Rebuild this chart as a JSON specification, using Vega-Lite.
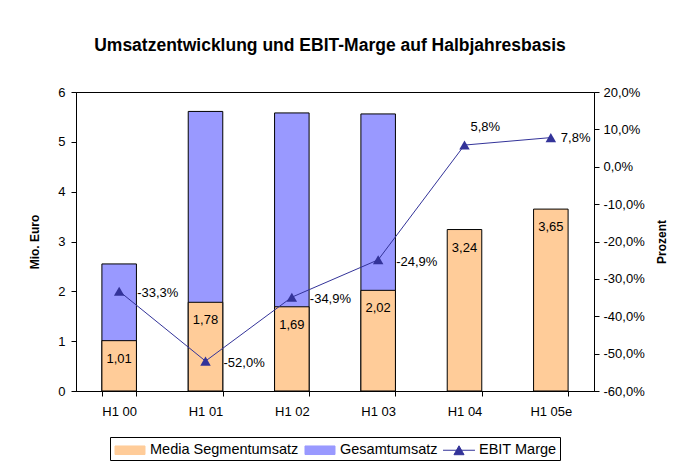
{
  "$schema": "https://vega.github.io/schema/vega-lite/v6.json",
  "autosize": "none",
  "width": 518,
  "height": 299,
  "padding": {"left": 76, "top": 92, "right": 88, "bottom": 74},
  "background": "white",
  "config": {
    "font": "Liberation Sans",
    "locale": {"number": {"decimal": ",", "thousands": ".", "grouping": [3], "currency": ["", " €"], "minus": "-", "percent": "%"}},
    "view": {"stroke": "black", "strokeWidth": 1},
    "axis": {"domainColor": "black", "tickColor": "black", "labelColor": "black", "titleColor": "black", "labelFont": "Liberation Sans", "titleFont": "Liberation Sans", "labelFontSize": 13, "titleFontSize": 12, "titleFontWeight": "bold", "grid": false, "tickSize": 5}
  },
  "title": {"text": "Umsatzentwicklung und EBIT-Marge auf Halbjahresbasis", "anchor": "middle", "frame": "group", "baseline": "bottom", "offset": 14, "dx": -5, "fontSize": 17.5, "fontWeight": "bold", "font": "Liberation Sans", "color": "black"},
  "data": {"values": [
    {"period": "H1 00", "media": 1.01, "gesamt": 2.55, "ebit": -0.333},
    {"period": "H1 01", "media": 1.78, "gesamt": 5.61, "ebit": -0.52},
    {"period": "H1 02", "media": 1.69, "gesamt": 5.58, "ebit": -0.349},
    {"period": "H1 03", "media": 2.02, "gesamt": 5.56, "ebit": -0.249},
    {"period": "H1 04", "media": 3.24, "gesamt": null, "ebit": 0.058},
    {"period": "H1 05e", "media": 3.65, "gesamt": null, "ebit": 0.078}
  ]},
  "encoding": {
    "x": {"field": "period", "type": "ordinal", "sort": null,
      "scale": {"paddingInner": 0.6, "paddingOuter": 0.3},
      "axis": {"title": null, "labelAngle": 0, "tickBand": "extent", "labelPadding": 9}}
  },
  "layer": [
    {
      "encoding": {
        "y": {"type": "quantitative", "scale": {"domain": [0, 6], "nice": false},
          "axis": {"title": "Mio. Euro", "values": [0, 1, 2, 3, 4, 5, 6], "labelPadding": 6, "titlePadding": 16}}
      },
      "layer": [
        {
          "transform": [{"filter": "datum.gesamt != null"}],
          "mark": {"type": "bar", "stroke": "black", "strokeWidth": 1},
          "encoding": {
            "y": {"field": "gesamt", "type": "quantitative"},
            "color": {"datum": "Gesamtumsatz", "type": "nominal",
              "scale": {"domain": ["Media Segmentumsatz", "Gesamtumsatz", "EBIT Marge"], "range": ["#FFCC99", "#9999FF", "#333399"]},
              "legend": {"orient": "none", "legendX": 34, "legendY": 345, "direction": "horizontal", "title": null, "strokeColor": "black", "padding": 3,
                "symbolType": {"expr": "datum.value == 'EBIT Marge' ? 'M-1.68,0H1.68M-0.53,0.47L0,-0.47L0.53,0.47Z' : 'M-1.58,-0.45H1.58V0.45H-1.58Z'"},
                "symbolSize": 361, "symbolStrokeWidth": 1, "symbolOpacity": 1, "symbolOffset": 7,
                "symbolStrokeColor": {"expr": "datum.value == 'EBIT Marge' ? '#333399' : '#333333'"},
                "labelFontSize": 14.5, "labelColor": "black", "labelFont": "Liberation Sans", "columnPadding": 3, "labelOffset": 10,
                "encoding": {"symbols": {"update": {"stroke": {"signal": "datum.value == 'EBIT Marge' ? '#333399' : '#333333'"}, "strokeWidth": {"value": 1}}}}}}
          }
        },
        {
          "mark": {"type": "bar", "stroke": "black", "strokeWidth": 1},
          "encoding": {
            "y": {"field": "media", "type": "quantitative"},
            "color": {"datum": "Media Segmentumsatz", "type": "nominal"}
          }
        },
        {
          "mark": {"type": "text", "baseline": "middle", "align": "center", "dy": 18, "fontSize": 13, "color": "black"},
          "encoding": {
            "y": {"field": "media", "type": "quantitative"},
            "text": {"field": "media", "type": "quantitative", "format": ".2f"}
          }
        }
      ]
    },
    {
      "encoding": {
        "y": {"field": "ebit", "type": "quantitative", "scale": {"domain": [-0.6, 0.2], "nice": false},
          "axis": {"orient": "right", "title": "Prozent", "format": ".1%", "values": [-0.6, -0.5, -0.4, -0.3, -0.2, -0.1, 0, 0.1, 0.2], "labelPadding": 4, "titlePadding": 12, "titleAngle": 270, "titleBaseline": "top"}}
      },
      "layer": [
        {
          "mark": {"type": "line", "strokeWidth": 1},
          "encoding": {"color": {"datum": "EBIT Marge", "type": "nominal"}}
        },
        {
          "mark": {"type": "point", "shape": "triangle-up", "filled": true, "size": 110, "opacity": 1},
          "encoding": {"color": {"datum": "EBIT Marge", "type": "nominal"}}
        },
        {
          "transform": [{"filter": "datum.ebit < 0"}],
          "mark": {"type": "text", "align": "left", "baseline": "middle", "dx": 18, "dy": 2, "fontSize": 13, "color": "black"},
          "encoding": {"text": {"field": "ebit", "type": "quantitative", "format": ".1%"}}
        },
        {
          "transform": [{"filter": "datum.period == 'H1 04'"}],
          "mark": {"type": "text", "align": "left", "baseline": "middle", "dx": 6, "dy": -18, "fontSize": 13, "color": "black"},
          "encoding": {"text": {"field": "ebit", "type": "quantitative", "format": ".1%"}}
        },
        {
          "transform": [{"filter": "datum.period == 'H1 05e'"}],
          "mark": {"type": "text", "align": "left", "baseline": "middle", "dx": 10, "dy": 0, "fontSize": 13, "color": "black"},
          "encoding": {"text": {"field": "ebit", "type": "quantitative", "format": ".1%"}}
        }
      ]
    }
  ],
  "resolve": {"scale": {"y": "independent"}}
}
